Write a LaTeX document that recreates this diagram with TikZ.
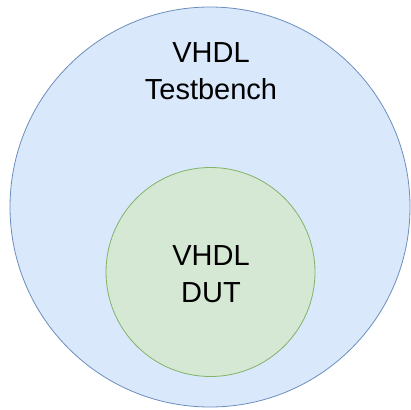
\documentclass[tikz,border=0pt]{standalone}
\usepackage{fontspec}
\setmainfont{Liberation Sans}
\usepackage{tikz}
\usepackage{xcolor}
\definecolor{tbfill}{HTML}{DAE8FC}
\definecolor{tbline}{HTML}{6C8EBF}
\definecolor{dutfill}{HTML}{D5E8D4}
\definecolor{dutline}{HTML}{82B366}
\tikzset{ring/.style={circle,inner sep=0pt,line width=0.8pt}}
\begin{document}
\begin{tikzpicture}[x=1pt,y=-1pt,font=\fontsize{29}{37}\selectfont]
\useasboundingbox (0,0) rectangle (411,409);
\node[ring,fill=tbfill,draw=tbline,minimum size=400pt] (tb) at (210,207) {};
\node[ring,fill=dutfill,draw=dutline,minimum size=209pt] (dut) at (210.5,272) {};
\node[align=center] (tblabel) at (211,71) {VHDL\\Testbench};
\node[align=center] (dutlabel) at (211,274.5) {VHDL\\DUT};
\end{tikzpicture}
\end{document}
